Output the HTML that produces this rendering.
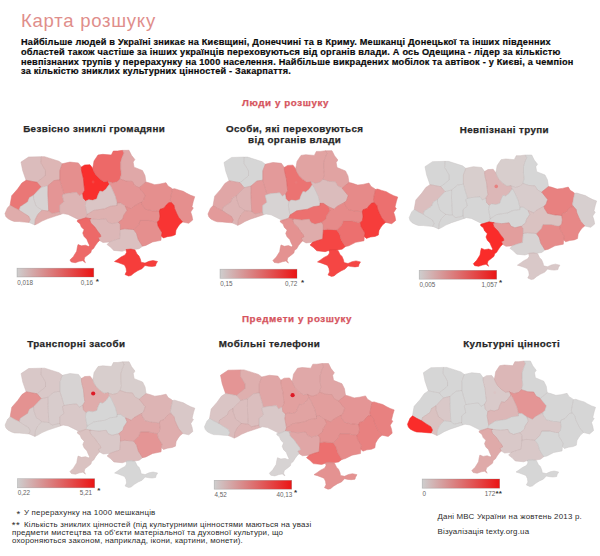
<!DOCTYPE html>
<html><head><meta charset="utf-8"><title>Карта розшуку</title>
<style>
html,body{margin:0;padding:0;background:#fff;}
body{width:600px;height:556px;position:relative;overflow:hidden;font-family:"Liberation Sans",sans-serif;color:#111;}
.t{position:absolute;white-space:nowrap;line-height:1;}
h1.t{margin:0;font-weight:normal;font-size:18.5px;letter-spacing:0.75px;color:#df8e8b;left:21px;top:12px;}
.p{font-weight:bold;font-size:9.2px;left:21px;color:#0a0a0a;letter-spacing:0.2px;-webkit-text-stroke:0.2px #0a0a0a;}
.sec{font-weight:bold;font-size:9.8px;color:#d6545e;letter-spacing:0.58px;-webkit-text-stroke:0.25px #d6545e;}
.mt{font-weight:bold;font-size:9.8px;letter-spacing:0.4px;color:#262626;-webkit-text-stroke:0.25px #262626;text-align:center;transform:translateX(-50%);line-height:11px;}
.ft{font-size:7.9px;letter-spacing:0.21px;color:#2a2a2a;}
svg{position:absolute;left:0;top:0;}
.lt{font-family:"Liberation Sans",sans-serif;font-size:6.3px;fill:#646464;}
.st{font-family:"Liberation Sans",sans-serif;font-size:8px;font-weight:bold;fill:#333;}
</style></head><body>
<h1 class="t">Карта розшуку</h1>
<div class="t p" style="top:37.7px">Найбільше людей в Україні зникає на Києвщині, Донеччині та в Криму. Мешканці Донецької та інших південних</div>
<div class="t p" style="top:47.6px">областей також частіше за інших українців переховуються від органів влади. А ось Одещина - лідер за кількістю</div>
<div class="t p" style="top:57.5px">невпізнаних трупів у перерахунку на 1000 населення. Найбільше викрадених мобілок та автівок - у Києві, а чемпіон</div>
<div class="t p" style="top:67.4px">за кількістю зниклих культурних цінностей - Закарпаття.</div>
<div class="t sec" style="left:242px;top:98.4px">Люди у розшуку</div>
<div class="t sec" style="left:242px;top:314px">Предмети у розшуку</div>
<div class="t mt" style="left:94.2px;top:122.7px">Безвісно зниклі громадяни</div>
<div class="t mt" style="left:294.7px;top:123.3px">Особи, які переховуються<br>від органів влади</div>
<div class="t mt" style="left:504.4px;top:123.7px">Невпізнані трупи</div>
<div class="t mt" style="left:76.3px;top:337.7px">Транспорні засоби</div>
<div class="t mt" style="left:269.5px;top:337.7px">Мобільні телефони</div>
<div class="t mt" style="left:511.7px;top:337.7px">Культурні цінності</div>
<div class="t ft" style="left:16.6px;top:509.3px;font-size:9.5px">*</div><div class="t ft" style="left:24px;top:509.4px">У перерахунку на 1000 мешканців</div>
<div class="t ft" style="left:11.8px;top:520.3px;font-size:9.5px;letter-spacing:0.6px">**</div><div class="t ft" style="left:24px;top:520.7px">Кількість зниклих цінностей (під культурними цінностями маються на увазі</div>
<div class="t ft" style="left:12px;top:529.1px">предмети мистецтва та об'єкти матеріальної та духовної культури, що</div>
<div class="t ft" style="left:12px;top:536.9px">охороняються законом, наприклад, ікони, картини, монети).</div>
<div class="t ft" style="left:437.5px;top:512.54px">Дані МВС України на жовтень 2013 р.</div>
<div class="t ft" style="left:437.5px;top:528.34px">Візуалізація texty.org.ua</div>
<svg width="600" height="556" viewBox="0 0 600 556">
<defs>
<linearGradient id="lg" x1="0" x2="1" y1="0" y2="0"><stop offset="0" stop-color="#cecece"/><stop offset="1" stop-color="#eb1414"/></linearGradient>
<path id="r-volyn" d="M20.99,162.08L28.58,157.03L41.23,156.69L40.9,162.92L45.45,170.49L45.45,175.54L37.02,182.27L26.05,180.25L22.68,170.49Z"/><path id="r-rivne" d="M41.23,156.69L44.61,156.69L58.95,161.24L62.32,163.76L59.79,170.49L59.79,179.74L53.89,180.59L47.98,185.63L41.23,187.32L37.02,182.27L45.45,175.54L45.45,170.49L40.9,162.92Z"/><path id="r-zhytomyr" d="M62.32,163.76L69.91,162.08L78.35,162.92L81.33,167L81.33,169.67L82,173L83.33,178.33L84,185L84.67,190.33L82.67,193.67L79.19,195.73L76.66,192.36L68.23,193.21L64.01,194.05L59.79,179.74L59.79,170.49Z"/><path id="r-lviv" d="M11.71,195.73L17.62,189L21.84,183.11L26.05,180.25L37.02,182.27L41.23,187.32L38.7,189.84L33.59,195.21L29.38,197.71L27.7,201.88L20.13,206.89L19.29,210.23L14.24,207.73L10.04,205.22Z"/><path id="r-ternopil" d="M38.7,189.84L41.23,187.32L47.98,185.63L47.88,194.37L48.72,211.06L41.99,210.23L36.11,206.06L33.59,198.54L33.59,195.21Z"/><path id="r-khmelnytskyi" d="M47.98,185.63L53.89,180.59L59.79,179.74L64.01,194.05L62.18,195.21L63.86,201.88L59.65,205.22L59.65,211.9L52.09,213.57L48.72,211.06L47.88,194.37Z"/><path id="r-ivano" d="M19.29,210.23L20.13,206.89L27.7,201.88L29.38,197.71L33.59,195.21L33.59,198.54L36.11,206.06L41.99,210.23L37.79,214.4L35.27,219.41L34.76,224.92L31.4,223.42L28.88,222.42L30.22,219.41L28.54,216.07L24.34,213.57Z"/><path id="r-zakarpattia" d="M4.99,213.57L7.52,207.73L10.04,205.22L14.24,207.73L19.29,210.23L24.34,213.57L28.54,216.07L30.22,219.41L28.88,222.42L24.34,222.08L19.29,221.58L14.24,221.41L11.39,220.41L7.85,218.58L5.84,216.41Z"/><path id="r-chernivtsi" d="M34.76,224.92L35.27,219.41L37.79,214.4L41.99,210.23L48.72,211.06L52.09,213.57L59.65,211.9L60.49,214.4L55.45,216.07L47.88,218.58L41.99,221.08L37.79,223.58Z"/><path id="r-vinnytsia" d="M64.01,194.05L68.23,193.21L76.66,192.36L79.19,195.73L82.67,193.67L83.33,198.33L86,201L85.33,205.43L87,214.6L85.83,217.77L80.33,220.43L78.15,219.41L73.11,216.91L68.06,214.4L63.02,213.57L60.49,214.4L59.65,211.9L59.65,205.22L63.86,201.88L62.18,195.21Z"/><path id="r-kyiv" d="M81.33,167L84.67,165L90,164.73L92.67,168.33L94,171.67L96,175L100,179L104,181.67L108,181L109.33,184.33L106,189L102.67,191.67L100,191L98,195L96.67,199L92.67,200.33L88.67,199.67L86,201L83.33,198.33L82.67,193.67L84.67,190.33L84,185L83.33,178.33L82,173L81.33,169.67Z"/><path id="r-chernihiv" d="M94,161L98,155L102.67,154.33L111.33,155L113.33,151L117.33,151L122.67,150.33L124,153L122,157.67L120.67,162.33L120.67,168.33L121.33,174.33L120,179L117.33,181.67L112.67,183L108.67,181.67L108,181L104,181.67L100,179L96,175L94,171.67L92.67,168.33L93.33,165Z"/><path id="r-sumy" d="M122.67,150.33L128.99,150.3L131.52,155.35L134.86,159.59L133.14,162.11L134.05,167.16L142.45,170.49L144.98,175.54L145.99,182.1L141.64,185.63L139.11,187.65L134.86,185.63L132.33,181.39L126.26,181.09L120,179L121.33,174.33L120.67,168.33L120.67,162.33L122,157.67L124,153Z"/><path id="r-poltava" d="M108,181L108.67,181.67L112.67,183L117.33,181.67L120,179L126.26,181.09L132.33,181.39L134.86,185.63L139.11,187.65L141.44,190.68L145.18,195.22L143.46,200.27L141.44,201.99L133.67,206.27L131.17,208.77L125.33,206.27L120.33,202.93L117,202.93L115.33,196.27L111.17,187.1L109.33,184.33Z"/><path id="r-cherkasy" d="M109.33,184.33L106,189L102.67,191.67L100,191L98,195L96.67,199L92.67,200.33L88.67,199.67L86,201L85.33,205.43L87,214.6L93.67,210.43L104.5,208.77L110.33,206.27L117,205.43L117,202.93L115.33,196.27L111.17,187.1Z"/><path id="r-kirovohrad" d="M87,214.6L93.67,210.43L104.5,208.77L110.33,206.27L117,205.43L117,202.93L120.33,202.93L125.33,206.27L127,210.43L123.67,215.43L122.83,218.77L118.67,222.1L112,223.77L107.83,222.1L106.17,218.77L98.67,219.6L91.17,218.77L85.83,217.77Z"/><path id="r-mykolaiv" d="M91.17,218.77L98.67,219.6L106.17,218.77L107.83,222.1L112,223.77L118.67,222.1L120.33,224.6L120.33,229.6L119.68,238.64L113.81,240.35L109.55,241.97L102.98,242.51L99.6,240.49L98.25,237.8L100.95,236.45L100.28,234.43L97.58,231.07L94.88,227.03L90.83,222.99L89.48,218.95Z"/><path id="r-odesa" d="M85.83,217.77L91.17,218.77L89.48,218.95L90.83,222.99L94.88,227.03L97.58,231.07L100.28,234.43L100.95,236.45L98.25,237.8L99.6,240.49L97.58,242.51L95.55,245.2L93.53,248.56L91.5,249.91L90.83,252.6L87.46,255.3L84.76,257.31L84.08,260.01L85.43,262.7L82.73,260.68L79.36,261.35L75.31,262.7L71.26,262.03L69.91,260.01L73.29,256.64L76.66,251.26L77.33,247.22L78.01,244.53L81.38,245.87L85.43,245.2L88.81,246.55L89.48,245.2L88.13,242.51L86.78,239.14L84.08,236.45L82.73,233.08L84.08,229.72L81.38,227.03L80.03,223.66L77.33,221.64L77.33,220.3Z"/><path id="r-kherson" d="M109.55,241.97L113.81,240.35L119.68,238.64L120.33,229.6L124.5,228.77L133.67,229.6L136.55,233.59L138.23,239.48L142.45,246.21L139.08,248.73L134.01,249.57L127.27,249.57L122.21,251.26L113.77,250.42L110.4,247.05L107.02,244.53Z"/><path id="r-zaporizhzhia" d="M133.67,229.6L138.67,224.6L140.33,220.43L148.67,220.43L154.29,221.78L157.3,222L158,226L160,229.3L162,232.7L161.3,236L160.97,240.35L152.57,241.97L145.79,245.4L142.45,246.21L138.23,239.48L136.55,233.59Z"/><path id="r-dnipro" d="M125.33,206.27L131.17,208.77L133.67,206.27L141.44,201.99L141.94,204.31L144.98,209.16L152.57,210.87L155.1,210.87L159.5,211.5L160,216L159.3,220L157.3,222L154.29,221.78L148.67,220.43L140.33,220.43L138.67,224.6L133.67,229.6L124.5,228.77L120.33,229.6L120.33,224.6L118.67,222.1L122.83,218.77L123.67,215.43L127,210.43Z"/><path id="r-kharkiv" d="M139.11,187.65L141.64,185.63L145.99,182.1L148.7,182.7L154.7,184.7L160,184L166,182.7L168,186L171.3,188L172.5,189L171.2,195L170.3,200L171.3,202.4L168.7,202.7L166,205.3L164,208L160,209.3L159.5,211.5L155.1,210.87L152.57,210.87L144.98,209.16L141.94,204.31L141.44,201.99L143.46,200.27L145.18,195.22L141.44,190.68Z"/><path id="r-luhansk" d="M172.5,189L174.7,188.7L178.7,190L183.3,191.3L186.7,193.3L190.7,195.3L194.7,196.7L193.3,201.3L192,206.7L193.3,208L190.7,212L192,216L192.7,220L188.7,223.3L182.7,222L178.7,217.3L176.7,213.3L174.7,208.7L174,205.3L171.3,202.4L170.3,200L171.2,195Z"/><path id="r-donetsk" d="M168.67,202.67L171.33,202.4L174,205.33L174.67,208.67L176.67,213.33L178.67,217.33L182.67,222L180,224L178,226.67L176,230L175.33,234.67L172,236L167.33,236.67L163.33,238L161.33,236L162,232.67L160,229.33L158,226L157.33,222L159.33,220L160,216L159.33,211.33L160,209.33L164,208L166,205.33Z"/><path id="r-crimea" d="M114.5,261.5L117.5,259.5L121,257L125,255L126.5,252.5L126,249.5L131,249L135,250L137,254L139,256L140.5,259.5L141,262.2L145,263.1L149,261.3L153,260.5L157.5,261.5L156,264L155.5,266L152,266.5L148.5,266.2L145,265.5L142,268.7L138,270.5L134,273L131,275.5L128.5,276L125,274.5L126.5,271.5L126,268L124.5,265L122,264L118,262.5Z"/><g id="all"><use href="#r-volyn"/><use href="#r-rivne"/><use href="#r-zhytomyr"/><use href="#r-lviv"/><use href="#r-ternopil"/><use href="#r-khmelnytskyi"/><use href="#r-ivano"/><use href="#r-zakarpattia"/><use href="#r-chernivtsi"/><use href="#r-vinnytsia"/><use href="#r-kyiv"/><use href="#r-chernihiv"/><use href="#r-sumy"/><use href="#r-poltava"/><use href="#r-cherkasy"/><use href="#r-kirovohrad"/><use href="#r-mykolaiv"/><use href="#r-odesa"/><use href="#r-kherson"/><use href="#r-zaporizhzhia"/><use href="#r-dnipro"/><use href="#r-kharkiv"/><use href="#r-luhansk"/><use href="#r-donetsk"/><use href="#r-crimea"/></g>
</defs>
<g stroke-width="0.5" stroke-linejoin="round">
<g transform="translate(0,0) scale(1,1)"><use href="#r-volyn" fill="#dbbcbc" stroke="#dbbcbc"/><use href="#r-rivne" fill="#ddb6b5" stroke="#ddb6b5"/><use href="#r-zhytomyr" fill="#e58f8e" stroke="#e58f8e"/><use href="#r-lviv" fill="#ea7776" stroke="#ea7776"/><use href="#r-ternopil" fill="#d7d3d3" stroke="#d7d3d3"/><use href="#r-khmelnytskyi" fill="#e49595" stroke="#e49595"/><use href="#r-ivano" fill="#d7d3d3" stroke="#d7d3d3"/><use href="#r-zakarpattia" fill="#dfacab" stroke="#dfacab"/><use href="#r-chernivtsi" fill="#dfacab" stroke="#dfacab"/><use href="#r-vinnytsia" fill="#ddb4b4" stroke="#ddb4b4"/><use href="#r-kyiv" fill="#f92f2d" stroke="#f92f2d"/><use href="#r-chernihiv" fill="#ed6968" stroke="#ed6968"/><use href="#r-sumy" fill="#e0a8a8" stroke="#e0a8a8"/><use href="#r-poltava" fill="#e49595" stroke="#e49595"/><use href="#r-cherkasy" fill="#dac5c5" stroke="#dac5c5"/><use href="#r-kirovohrad" fill="#deb1b0" stroke="#deb1b0"/><use href="#r-mykolaiv" fill="#dcb7b7" stroke="#dcb7b7"/><use href="#r-odesa" fill="#ed6968" stroke="#ed6968"/><use href="#r-kherson" fill="#dbc0c0" stroke="#dbc0c0"/><use href="#r-zaporizhzhia" fill="#e58f8e" stroke="#e58f8e"/><use href="#r-dnipro" fill="#e58f8e" stroke="#e58f8e"/><use href="#r-kharkiv" fill="#e58f8e" stroke="#e58f8e"/><use href="#r-luhansk" fill="#e58f8e" stroke="#e58f8e"/><use href="#r-donetsk" fill="#f83433" stroke="#f83433"/><use href="#r-crimea" fill="#f63d3b" stroke="#f63d3b"/><use href="#all" fill="none" stroke="#502020" stroke-opacity=".06" stroke-width=".7"/><circle cx="93.1" cy="182" r="1.4" fill="#f54442" stroke="none"/></g>
<g transform="translate(203,0.4) scale(1,1)"><use href="#r-volyn" fill="#d6d6d6" stroke="#d6d6d6"/><use href="#r-rivne" fill="#d6d6d6" stroke="#d6d6d6"/><use href="#r-zhytomyr" fill="#e39a9a" stroke="#e39a9a"/><use href="#r-lviv" fill="#e0a6a6" stroke="#e0a6a6"/><use href="#r-ternopil" fill="#ddb4b4" stroke="#ddb4b4"/><use href="#r-khmelnytskyi" fill="#e39a9a" stroke="#e39a9a"/><use href="#r-ivano" fill="#ddb4b4" stroke="#ddb4b4"/><use href="#r-zakarpattia" fill="#e39a9a" stroke="#e39a9a"/><use href="#r-chernivtsi" fill="#dfacab" stroke="#dfacab"/><use href="#r-vinnytsia" fill="#d7d3d3" stroke="#d7d3d3"/><use href="#r-kyiv" fill="#eb7372" stroke="#eb7372"/><use href="#r-chernihiv" fill="#e1a3a2" stroke="#e1a3a2"/><use href="#r-sumy" fill="#e1a3a2" stroke="#e1a3a2"/><use href="#r-poltava" fill="#dbbcbc" stroke="#dbbcbc"/><use href="#r-cherkasy" fill="#d7d1d1" stroke="#d7d1d1"/><use href="#r-kirovohrad" fill="#ec706f" stroke="#ec706f"/><use href="#r-mykolaiv" fill="#dfacab" stroke="#dfacab"/><use href="#r-odesa" fill="#e49291" stroke="#e49291"/><use href="#r-kherson" fill="#f54644" stroke="#f54644"/><use href="#r-zaporizhzhia" fill="#ec706f" stroke="#ec706f"/><use href="#r-dnipro" fill="#e68a89" stroke="#e68a89"/><use href="#r-kharkiv" fill="#e68a89" stroke="#e68a89"/><use href="#r-luhansk" fill="#ec706f" stroke="#ec706f"/><use href="#r-donetsk" fill="#f63d3b" stroke="#f63d3b"/><use href="#r-crimea" fill="#f54644" stroke="#f54644"/><use href="#all" fill="none" stroke="#502020" stroke-opacity=".06" stroke-width=".7"/><circle cx="93.1" cy="182" r="1.4" fill="#ea7877" stroke="none"/></g>
<g transform="translate(404.26,6.13) scale(0.988,0.9905)"><use href="#r-volyn" fill="#d6d6d6" stroke="#d6d6d6"/><use href="#r-rivne" fill="#d6d6d6" stroke="#d6d6d6"/><use href="#r-zhytomyr" fill="#d8cecd" stroke="#d8cecd"/><use href="#r-lviv" fill="#dbbebe" stroke="#dbbebe"/><use href="#r-ternopil" fill="#d6d6d6" stroke="#d6d6d6"/><use href="#r-khmelnytskyi" fill="#d6d6d6" stroke="#d6d6d6"/><use href="#r-ivano" fill="#d6d6d6" stroke="#d6d6d6"/><use href="#r-zakarpattia" fill="#d6d6d6" stroke="#d6d6d6"/><use href="#r-chernivtsi" fill="#d6d6d6" stroke="#d6d6d6"/><use href="#r-vinnytsia" fill="#d6d6d6" stroke="#d6d6d6"/><use href="#r-kyiv" fill="#dcb7b7" stroke="#dcb7b7"/><use href="#r-chernihiv" fill="#d8cecd" stroke="#d8cecd"/><use href="#r-sumy" fill="#d6d6d6" stroke="#d6d6d6"/><use href="#r-poltava" fill="#d8cccc" stroke="#d8cccc"/><use href="#r-cherkasy" fill="#d6d6d6" stroke="#d6d6d6"/><use href="#r-kirovohrad" fill="#d6d6d6" stroke="#d6d6d6"/><use href="#r-mykolaiv" fill="#e29e9d" stroke="#e29e9d"/><use href="#r-odesa" fill="#fa2c2a" stroke="#fa2c2a"/><use href="#r-kherson" fill="#d7d3d3" stroke="#d7d3d3"/><use href="#r-zaporizhzhia" fill="#e68b8a" stroke="#e68b8a"/><use href="#r-dnipro" fill="#dac2c1" stroke="#dac2c1"/><use href="#r-kharkiv" fill="#e88180" stroke="#e88180"/><use href="#r-luhansk" fill="#d7cfcf" stroke="#d7cfcf"/><use href="#r-donetsk" fill="#e78887" stroke="#e78887"/><use href="#r-crimea" fill="#d9c8c8" stroke="#d9c8c8"/><use href="#all" fill="none" stroke="#502020" stroke-opacity=".06" stroke-width=".7"/><circle cx="93.1" cy="182" r="1.8" fill="#e88180" stroke="none"/></g>
<g transform="translate(0.1,211.5) scale(1,1)"><use href="#r-volyn" fill="#d9c8c8" stroke="#d9c8c8"/><use href="#r-rivne" fill="#d9c8c8" stroke="#d9c8c8"/><use href="#r-zhytomyr" fill="#d7d3d3" stroke="#d7d3d3"/><use href="#r-lviv" fill="#e49291" stroke="#e49291"/><use href="#r-ternopil" fill="#d9c8c8" stroke="#d9c8c8"/><use href="#r-khmelnytskyi" fill="#d8cccc" stroke="#d8cccc"/><use href="#r-ivano" fill="#d8cccc" stroke="#d8cccc"/><use href="#r-zakarpattia" fill="#d8cecd" stroke="#d8cecd"/><use href="#r-chernivtsi" fill="#d8cecd" stroke="#d8cecd"/><use href="#r-vinnytsia" fill="#d9c8c8" stroke="#d9c8c8"/><use href="#r-kyiv" fill="#dfacab" stroke="#dfacab"/><use href="#r-chernihiv" fill="#d8cecd" stroke="#d8cecd"/><use href="#r-sumy" fill="#d8cecd" stroke="#d8cecd"/><use href="#r-poltava" fill="#dac2c1" stroke="#dac2c1"/><use href="#r-cherkasy" fill="#d6d6d6" stroke="#d6d6d6"/><use href="#r-kirovohrad" fill="#d6d6d6" stroke="#d6d6d6"/><use href="#r-mykolaiv" fill="#d9c8c8" stroke="#d9c8c8"/><use href="#r-odesa" fill="#dac2c1" stroke="#dac2c1"/><use href="#r-kherson" fill="#dbbcbc" stroke="#dbbcbc"/><use href="#r-zaporizhzhia" fill="#e49595" stroke="#e49595"/><use href="#r-dnipro" fill="#e0a6a6" stroke="#e0a6a6"/><use href="#r-kharkiv" fill="#ddb4b4" stroke="#ddb4b4"/><use href="#r-luhansk" fill="#d9c8c8" stroke="#d9c8c8"/><use href="#r-donetsk" fill="#dfadad" stroke="#dfadad"/><use href="#r-crimea" fill="#d6d6d6" stroke="#d6d6d6"/><use href="#all" fill="none" stroke="#502020" stroke-opacity=".06" stroke-width=".7"/><circle cx="93.1" cy="182" r="2.1" fill="#dd1a26" stroke="none"/></g>
<g transform="translate(199.5,213.2) scale(1,1)"><use href="#r-volyn" fill="#e49595" stroke="#e49595"/><use href="#r-rivne" fill="#deafae" stroke="#deafae"/><use href="#r-zhytomyr" fill="#e0a6a6" stroke="#e0a6a6"/><use href="#r-lviv" fill="#dac5c5" stroke="#dac5c5"/><use href="#r-ternopil" fill="#dbbebe" stroke="#dbbebe"/><use href="#r-khmelnytskyi" fill="#dbbebe" stroke="#dbbebe"/><use href="#r-ivano" fill="#dbbcbc" stroke="#dbbcbc"/><use href="#r-zakarpattia" fill="#d6d6d6" stroke="#d6d6d6"/><use href="#r-chernivtsi" fill="#ddb4b4" stroke="#ddb4b4"/><use href="#r-vinnytsia" fill="#d9c8c8" stroke="#d9c8c8"/><use href="#r-kyiv" fill="#e2a09f" stroke="#e2a09f"/><use href="#r-chernihiv" fill="#e0a8a8" stroke="#e0a8a8"/><use href="#r-sumy" fill="#e0a6a6" stroke="#e0a6a6"/><use href="#r-poltava" fill="#e29e9d" stroke="#e29e9d"/><use href="#r-cherkasy" fill="#e1a3a2" stroke="#e1a3a2"/><use href="#r-kirovohrad" fill="#e29e9d" stroke="#e29e9d"/><use href="#r-mykolaiv" fill="#e0a6a6" stroke="#e0a6a6"/><use href="#r-odesa" fill="#d7d3d3" stroke="#d7d3d3"/><use href="#r-kherson" fill="#ec706f" stroke="#ec706f"/><use href="#r-zaporizhzhia" fill="#e68b8a" stroke="#e68b8a"/><use href="#r-dnipro" fill="#e49291" stroke="#e49291"/><use href="#r-kharkiv" fill="#e49595" stroke="#e49595"/><use href="#r-luhansk" fill="#e88180" stroke="#e88180"/><use href="#r-donetsk" fill="#e88180" stroke="#e88180"/><use href="#r-crimea" fill="#e49291" stroke="#e49291"/><use href="#all" fill="none" stroke="#502020" stroke-opacity=".06" stroke-width=".7"/><circle cx="93.1" cy="182" r="2.1" fill="#dd1a26" stroke="none"/></g>
<g transform="translate(402.55,210.94) scale(0.991,0.9984)"><use href="#r-volyn" fill="#d6d6d6" stroke="#d6d6d6"/><use href="#r-rivne" fill="#d6d6d6" stroke="#d6d6d6"/><use href="#r-zhytomyr" fill="#d6d6d6" stroke="#d6d6d6"/><use href="#r-lviv" fill="#d6d6d6" stroke="#d6d6d6"/><use href="#r-ternopil" fill="#d9c8c8" stroke="#d9c8c8"/><use href="#r-khmelnytskyi" fill="#d6d6d6" stroke="#d6d6d6"/><use href="#r-ivano" fill="#dac2c1" stroke="#dac2c1"/><use href="#r-zakarpattia" fill="#fa2c2a" stroke="#fa2c2a"/><use href="#r-chernivtsi" fill="#d6d6d6" stroke="#d6d6d6"/><use href="#r-vinnytsia" fill="#d6d6d6" stroke="#d6d6d6"/><use href="#r-kyiv" fill="#d9caca" stroke="#d9caca"/><use href="#r-chernihiv" fill="#dcb7b7" stroke="#dcb7b7"/><use href="#r-sumy" fill="#d6d6d6" stroke="#d6d6d6"/><use href="#r-poltava" fill="#e49595" stroke="#e49595"/><use href="#r-cherkasy" fill="#dcb7b7" stroke="#dcb7b7"/><use href="#r-kirovohrad" fill="#d6d6d6" stroke="#d6d6d6"/><use href="#r-mykolaiv" fill="#d9c8c8" stroke="#d9c8c8"/><use href="#r-odesa" fill="#dfaaa9" stroke="#dfaaa9"/><use href="#r-kherson" fill="#d9c8c8" stroke="#d9c8c8"/><use href="#r-zaporizhzhia" fill="#d6d6d6" stroke="#d6d6d6"/><use href="#r-dnipro" fill="#d9c8c8" stroke="#d9c8c8"/><use href="#r-kharkiv" fill="#d6d6d6" stroke="#d6d6d6"/><use href="#r-luhansk" fill="#d6d6d6" stroke="#d6d6d6"/><use href="#r-donetsk" fill="#d6d6d6" stroke="#d6d6d6"/><use href="#r-crimea" fill="#d6d6d6" stroke="#d6d6d6"/><use href="#all" fill="none" stroke="#502020" stroke-opacity=".06" stroke-width=".7"/><circle cx="93.1" cy="182" r="1.4" fill="#dac5c5" stroke="none"/></g>
</g>
<rect x="17" y="268.2" width="76.8" height="8.8" fill="url(#lg)" stroke="#777" stroke-opacity=".45" stroke-width=".6"/><text x="17.3" y="284.7" class="lt">0,018</text><text x="93" y="284.7" class="lt" text-anchor="end">0,16</text><text x="95.8" y="283.9" class="st">*</text>
<rect x="220" y="269.2" width="77" height="9.1" fill="url(#lg)" stroke="#777" stroke-opacity=".45" stroke-width=".6"/><text x="220.3" y="285.6" class="lt">0,15</text><text x="297.3" y="285.6" class="lt" text-anchor="end">0,72</text><text x="301" y="285.45" class="st">*</text>
<rect x="419.2" y="270.3" width="77.5" height="8.9" fill="url(#lg)" stroke="#777" stroke-opacity=".45" stroke-width=".6"/><text x="419.5" y="286.8" class="lt">0,005</text><text x="497.3" y="286.8" class="lt" text-anchor="end">1,057</text><text x="499" y="284.7" class="st">*</text>
<rect x="17.5" y="478.7" width="77.2" height="9.1" fill="url(#lg)" stroke="#777" stroke-opacity=".45" stroke-width=".6"/><text x="17.8" y="495.1" class="lt">0,22</text><text x="92" y="495.1" class="lt" text-anchor="end">5,21</text><text x="97.3" y="492.95" class="st">*</text>
<rect x="214.2" y="480.3" width="77.5" height="8.9" fill="url(#lg)" stroke="#777" stroke-opacity=".45" stroke-width=".6"/><text x="214.5" y="496.8" class="lt">4,52</text><text x="292.3" y="496.8" class="lt" text-anchor="end">40,13</text><text x="294" y="494.9" class="st">*</text>
<rect x="422.2" y="479" width="77.5" height="9.2" fill="url(#lg)" stroke="#777" stroke-opacity=".45" stroke-width=".6"/><text x="422.5" y="495.6" class="lt">0</text><text x="495.3" y="495.6" class="lt" text-anchor="end">172</text><text x="495.6" y="495.95" class="st">**</text>

</svg>
</body></html>
